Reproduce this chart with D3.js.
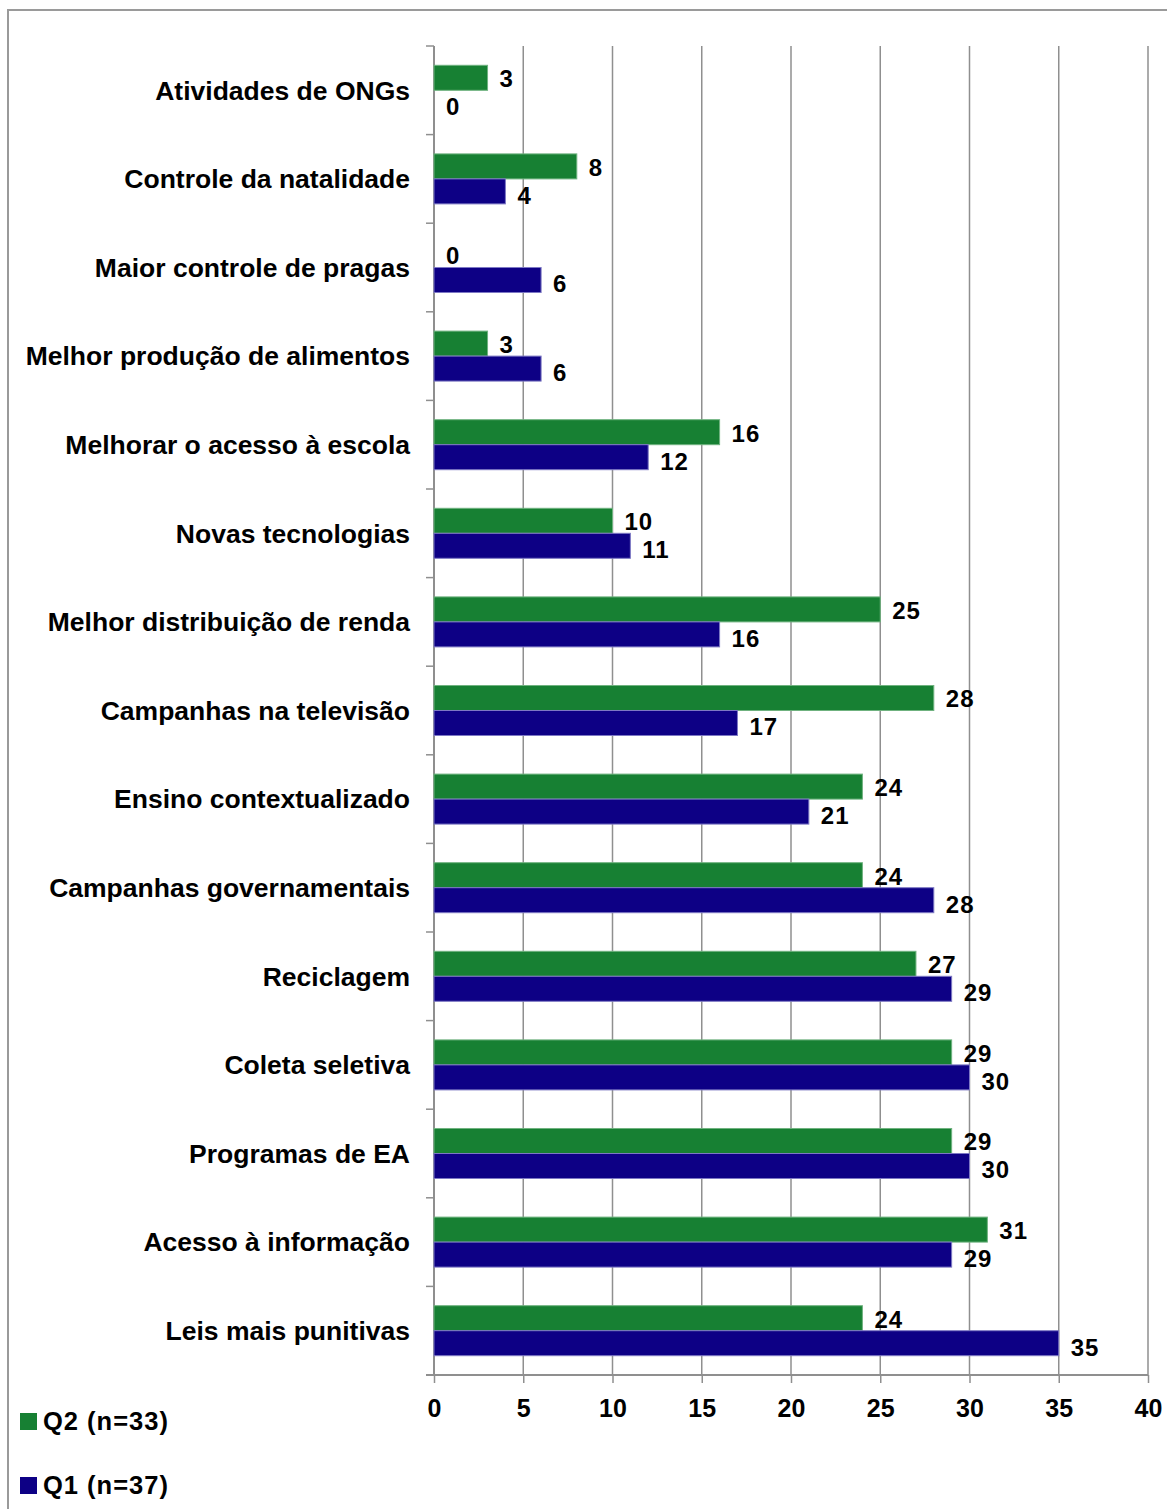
<!DOCTYPE html>
<html>
<head>
<meta charset="utf-8">
<script src="https://cdn.jsdelivr.net/npm/d3@7"></script>
<style>
  html, body { margin: 0; padding: 0; background: #fff; }
  svg { display: block; font-family: "Liberation Sans", Arial, sans-serif; font-weight: bold; }
</style>
</head>
<body>
<svg id="chart" width="1167" height="1509"></svg>
<script>
const categories = [
  "Atividades de ONGs",
  "Controle da natalidade",
  "Maior controle de pragas",
  "Melhor produção de alimentos",
  "Melhorar o acesso à escola",
  "Novas tecnologias",
  "Melhor distribuição de renda",
  "Campanhas na televisão",
  "Ensino contextualizado",
  "Campanhas governamentais",
  "Reciclagem",
  "Coleta seletiva",
  "Programas de EA",
  "Acesso à informação",
  "Leis mais punitivas"
];
const q2Values = [3, 8, 0, 3, 16, 10, 25, 28, 24, 24, 27, 29, 29, 31, 24];
const q1Values = [0, 4, 6, 6, 12, 11, 16, 17, 21, 28, 29, 30, 30, 29, 35];
const seriesNames = ["Q2 (n=33)", "Q1 (n=37)"];
const xTicks = [0, 5, 10, 15, 20, 25, 30, 35, 40];

const colors = { "Q2 (n=33)": "#178033", "Q1 (n=37)": "#0d0085" };
const strokes = { "Q2 (n=33)": "#6fb27f", "Q1 (n=37)": "#7d78c4" };

const svg = d3.select("#chart");
const plotL = 434, plotR = 1148, plotT = 46, plotB = 1375;

// outer frame
svg.append("path")
  .attr("d", `M8,1509 L8,10 L1167,10`)
  .attr("fill", "none").attr("stroke", "#9a9a9a").attr("stroke-width", 2);

const x = d3.scaleLinear().domain([0, 40]).range([plotL, plotR]);
const y = d3.scaleBand().domain(categories).range([plotT, plotB]).padding(0);
const bw = y.bandwidth();
const ys = d3.scaleBand().domain(seriesNames).range([bw / 2 - 25, bw / 2 + 25]).padding(0);

// gridlines
svg.append("g").selectAll("line").data(xTicks.filter(t => t > 0)).join("line")
  .attr("x1", d => x(d)).attr("x2", d => x(d))
  .attr("y1", plotT).attr("y2", plotB)
  .attr("stroke", "#8f8f8f").attr("stroke-width", 1.5);

// x axis
const xAxis = svg.append("g").attr("transform", `translate(0,${plotB})`)
  .call(d3.axisBottom(x).tickValues(xTicks).tickSize(8).tickPadding(16));
xAxis.select(".domain").attr("stroke", "#8f8f8f").attr("stroke-width", 2)
  .attr("d", `M${plotL - 8},0H${plotR}`);
xAxis.selectAll(".tick line").attr("stroke", "#8f8f8f").attr("stroke-width", 1.5);
xAxis.selectAll(".tick text").attr("fill", "#000").attr("font-size", 25)
  .attr("font-weight", "bold").attr("font-family", "'Liberation Sans', Arial, sans-serif");

// y axis line and boundary ticks
svg.append("line").attr("x1", plotL).attr("x2", plotL).attr("y1", plotT).attr("y2", plotB)
  .attr("stroke", "#8f8f8f").attr("stroke-width", 2);
const bounds = categories.map(c => y(c)).concat([plotB]);
svg.append("g").selectAll("line").data(bounds).join("line")
  .attr("x1", plotL - 8).attr("x2", plotL).attr("y1", d => d).attr("y2", d => d)
  .attr("stroke", "#8f8f8f").attr("stroke-width", 1.5);

// category labels
svg.append("g").selectAll("text").data(categories).join("text")
  .attr("x", 410).attr("y", d => y(d) + bw / 2)
  .attr("dy", "0.35em").attr("text-anchor", "end")
  .attr("font-size", 26.5).attr("fill", "#000")
  .text(d => d);

// bars
const rows = categories.map((c, i) => ({ c, vals: [
  { s: seriesNames[0], v: q2Values[i] },
  { s: seriesNames[1], v: q1Values[i] }
]}));
const groups = svg.append("g").selectAll("g").data(rows).join("g")
  .attr("transform", d => `translate(0,${y(d.c)})`);
groups.selectAll("rect").data(d => d.vals.filter(e => e.v > 0)).join("rect")
  .attr("x", x(0)).attr("y", d => ys(d.s))
  .attr("width", d => x(d.v) - x(0)).attr("height", ys.bandwidth())
  .attr("fill", d => colors[d.s]).attr("stroke", d => strokes[d.s]).attr("stroke-width", 1);
groups.selectAll("text").data(d => d.vals).join("text")
  .attr("x", d => x(d.v) + 12)
  .attr("y", d => ys(d.s) + ys.bandwidth() / 2 + (d.s === seriesNames[1] ? 4 : 1))
  .attr("dy", "0.35em").attr("font-size", 24).attr("letter-spacing", 1).attr("fill", "#000")
  .text(d => d.v);

// legend
const legend = svg.append("g").selectAll("g").data(seriesNames).join("g")
  .attr("transform", (d, i) => `translate(20,${1413 + i * 64})`);
legend.append("rect").attr("width", 17).attr("height", 17).attr("fill", d => colors[d]);
legend.append("text").attr("x", 23).attr("y", 17).attr("font-size", 25.5)
  .attr("letter-spacing", 1).attr("fill", "#000").text(d => d);
</script>
</body>
</html>
